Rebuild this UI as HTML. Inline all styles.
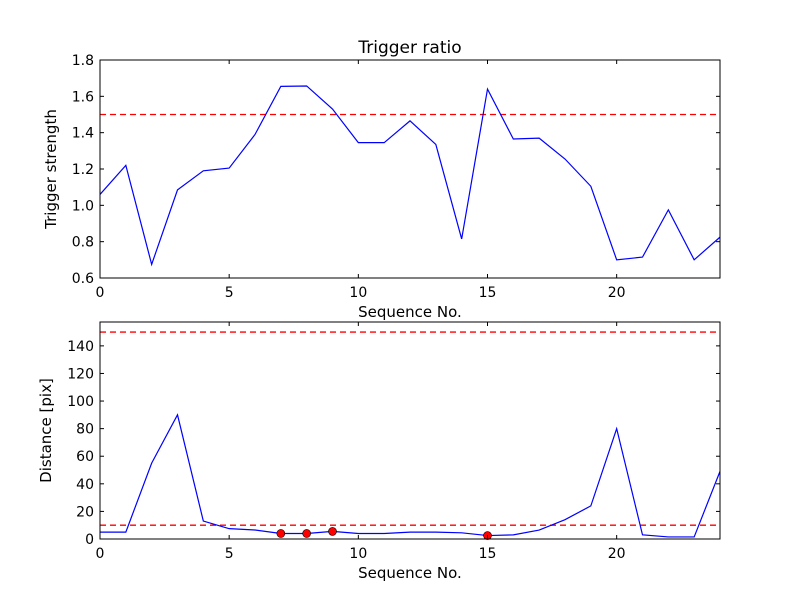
<!DOCTYPE html>
<html><head><meta charset="utf-8"><style>
html,body{margin:0;padding:0;background:#fff;}
svg text{font-family:"DejaVu Sans","Liberation Sans",sans-serif;}
</style></head><body>
<svg id="chart" width="800" height="600" xmlns="http://www.w3.org/2000/svg"></svg>
<script>
const seq = [0,1,2,3,4,5,6,7,8,9,10,11,12,13,14,15,16,17,18,19,20,21,22,23,24];
const strength = [1.06,1.22,0.675,1.085,1.19,1.205,1.39,1.655,1.657,1.53,1.345,1.345,1.465,1.335,0.815,1.64,1.365,1.37,1.255,1.105,0.70,0.715,0.975,0.70,0.825];
const distance = [5,5,55,90,13,7.5,6.5,4,4,5.5,4,4,5,5,4.5,2.5,3,6.5,14,24,80,3,1.5,1.5,49];
const flagged = [7,8,9,15];
const xTicks = [0,5,10,15,20];
const topTicks = [0.6,0.8,1.0,1.2,1.4,1.6,1.8];
const botTicks = [0,20,40,60,80,100,120,140];
const strengthThreshold = 1.5;
const distThresholds = [10,150];

const svg = document.getElementById('chart');
const NS = 'http://www.w3.org/2000/svg';
function mk(tag, attrs, parent){const e=document.createElementNS(NS,tag);for(const k in attrs)e.setAttribute(k,attrs[k]);(parent||svg).appendChild(e);return e;}

const L=100,R=720;
const x = v => L + (v-0)/(24-0)*(R-L);
const T1=60,B1=278, yTop = v => B1 - (v-0.6)/(1.8-0.6)*(B1-T1);
const T2=322,B2=539, yBot = v => B2 - (v-0)/(157.3-0)*(B2-T2);

function axes(T,B,yf,ticks,fmt,ylabel,name,title,ylx){
  const g=mk('g',{});
  
  
  xTicks.forEach(t=>{
    mk('line',{x1:x(t),x2:x(t),y1:B,y2:B-4,stroke:'#000'},g);
    mk('line',{x1:x(t),x2:x(t),y1:T,y2:T+4,stroke:'#000'},g);
    const tx=mk('text',{x:x(t),y:B+19,'font-size':14,'text-anchor':'middle'},g);tx.textContent=t;
    
    
  });
  ticks.forEach(t=>{
    mk('line',{x1:L,x2:L+4,y1:yf(t),y2:yf(t),stroke:'#000'},g);
    mk('line',{x1:R,x2:R-4,y1:yf(t),y2:yf(t),stroke:'#000'},g);
    const tx=mk('text',{x:L-6,y:yf(t)+5,'font-size':14,'text-anchor':'end'},g);tx.textContent=fmt(t);
    
    
  });
  const xl=mk('text',{x:(L+R)/2,y:B+39,'font-size':15,'text-anchor':'middle'},g);xl.textContent='Sequence No.';
  
  
  const yl=mk('text',{x:0,y:0,'font-size':15,'text-anchor':'middle',transform:`translate(${ylx},${(T+B)/2}) rotate(-90)`},g);yl.textContent=ylabel;
  
  
  if(title){const tt=mk('text',{x:(L+R)/2,y:T-7,'font-size':17,'text-anchor':'middle'},g);tt.textContent=title;
    
    }
}

mk('rect',{x:L,y:T1,width:R-L,height:B1-T1,fill:'#fff'});
const th=mk('line',{x1:L,x2:R,y1:yTop(strengthThreshold),y2:yTop(strengthThreshold),stroke:'#f00','stroke-width':1.3,'stroke-dasharray':'6,4'});


const p1=mk('polyline',{points:seq.map((s,i)=>x(s)+','+yTop(strength[i])).join(' '),fill:'none',stroke:'#00f','stroke-width':1.2});


mk('rect',{x:L,y:T1,width:R-L,height:B1-T1,fill:'none',stroke:'#000'});
axes(T1,B1,yTop,topTicks,t=>t.toFixed(1),'Trigger strength','top-axes','Trigger ratio',56);

mk('rect',{x:L,y:T2,width:R-L,height:B2-T2,fill:'#fff'});
distThresholds.forEach(v=>{
  const l=mk('line',{x1:L,x2:R,y1:yBot(v),y2:yBot(v),stroke:'#f00','stroke-width':1.3,'stroke-dasharray':'6,4'});
  
  
});
const p2=mk('polyline',{points:seq.map((s,i)=>x(s)+','+yBot(distance[i])).join(' '),fill:'none',stroke:'#00f','stroke-width':1.2});


flagged.forEach(s=>{
  const c=mk('circle',{cx:x(s),cy:yBot(distance[seq.indexOf(s)]),r:4,fill:'#f00',stroke:'#000','stroke-width':0.6});
  
  
});
mk('rect',{x:L,y:T2,width:R-L,height:B2-T2,fill:'none',stroke:'#000'});
axes(T2,B2,yBot,botTicks,t=>String(t),'Distance [pix]','bottom-axes',null,51);
</script>
</body></html>
